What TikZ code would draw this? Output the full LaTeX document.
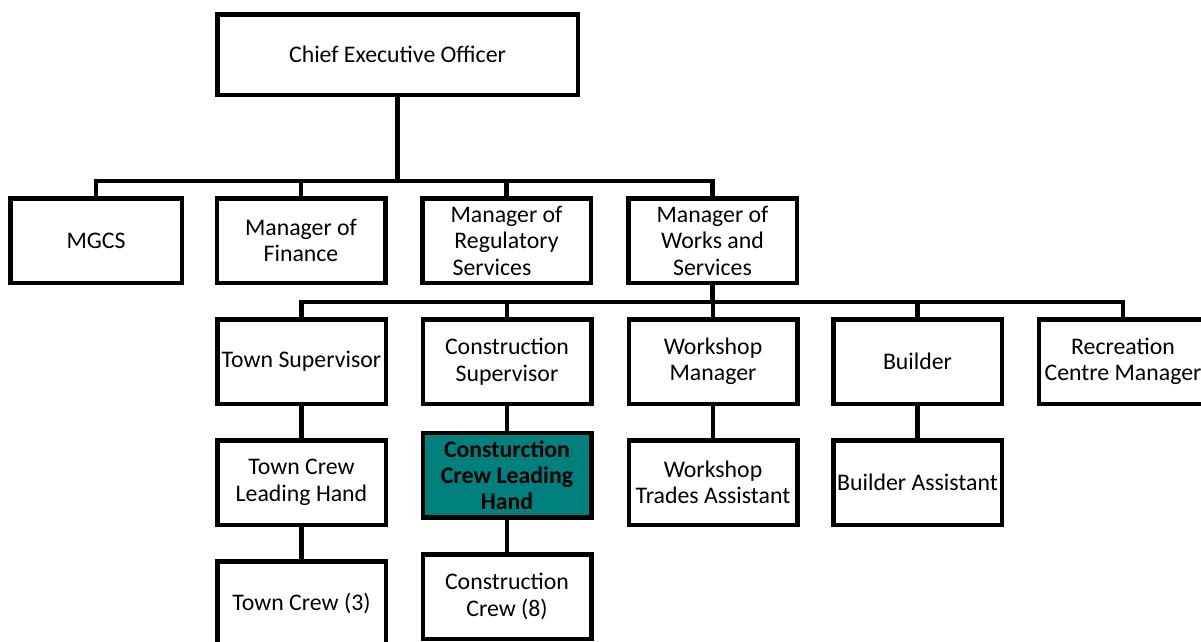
\documentclass[tikz,border=0pt]{standalone}
\usepackage{fontspec}
\setmainfont{Carlito}
\definecolor{tealbox}{RGB}{0,128,124}
\begin{document}
\begin{tikzpicture}[x=1pt,y=-1pt,
  box/.style={draw=black,line width=4.5pt,fill=white,rectangle,inner sep=0pt,
    minimum width=168.5pt,minimum height=84.5pt,align=center,
    font=\fontsize{23.8}{26.5}\selectfont},
  conn/.style={draw=black,line width=4.5pt}]
\useasboundingbox (0,0) rectangle (1201,641);
\clip (0,0) rectangle (1201,641);
\fill[white] (0,0) rectangle (1201,641);
% row 1
\node[box,minimum width=360.5pt,minimum height=80.5pt] (ceo) at (397.5,54.5) {Chief Executive Officer};
% row 2
\node[box,minimum width=171.5pt] (mgcs) at (96,240.5) {MGCS};
\node[box] (fin) at (301,240.5) {Manager of\\Finance};
\node[box] (reg) at (506.5,240.5) {Manager of\\Regulatory\\Services\hspace*{29pt}};
\node[box] (works) at (712.5,240.5) {Manager of\\Works and\\Services};
% row 3
\node[box] (town) at (301.5,361.5) {Town Supervisor};
\node[box] (csup) at (507,361.5) {Construction\\Supervisor};
\node[box] (wman) at (713,361.5) {Workshop\\Manager};
\node[box] (build) at (917.5,361.5) {Builder};
\node[box] (rec) at (1123,361.5) {Recreation\\Centre Manager};
% row 4
\node[box] (tlh) at (301.5,482.5) {Town Crew\\Leading Hand};
\node[box,fill=tealbox,font=\fontsize{23.8}{26}\selectfont\bfseries] (clh) at (507,475) {Consturction\\Crew Leading\\Hand};
\node[box] (wta) at (713,482.5) {Workshop\\Trades Assistant};
\node[box] (basst) at (917.5,482.5) {Builder Assistant};
% row 5
\node[box] (tc) at (301.5,603.5) {Town Crew (3)};
\node[box] (cc) at (507,596.5) {Construction\\Crew (8)};
% connectors
\coordinate (b1) at (0,181);
\coordinate (b2) at (0,302);
\draw[conn] (ceo.south) -- (ceo.south |- b1);
\draw[conn] (mgcs.north) |- (works.north |- b1) -- (works.north);
\draw[conn] (fin.north) -- (fin.north |- b1);
\draw[conn] (reg.north) -- (reg.north |- b1);
\draw[conn] (works.south) -- (works.south |- b2);
\draw[conn] (town.north) |- (rec.north |- b2) -- (rec.north);
\draw[conn] (csup.north) -- (csup.north |- b2);
\draw[conn] (wman.north) -- (wman.north |- b2);
\draw[conn] (build.north) -- (build.north |- b2);
\draw[conn] (town.south) -- (tlh.north);
\draw[conn] (tlh.south) -- (tc.north);
\draw[conn] (csup.south) -- (clh.north);
\draw[conn] (clh.south) -- (cc.north);
\draw[conn] (wman.south) -- (wta.north);
\draw[conn] (build.south) -- (basst.north);
\end{tikzpicture}
\end{document}
